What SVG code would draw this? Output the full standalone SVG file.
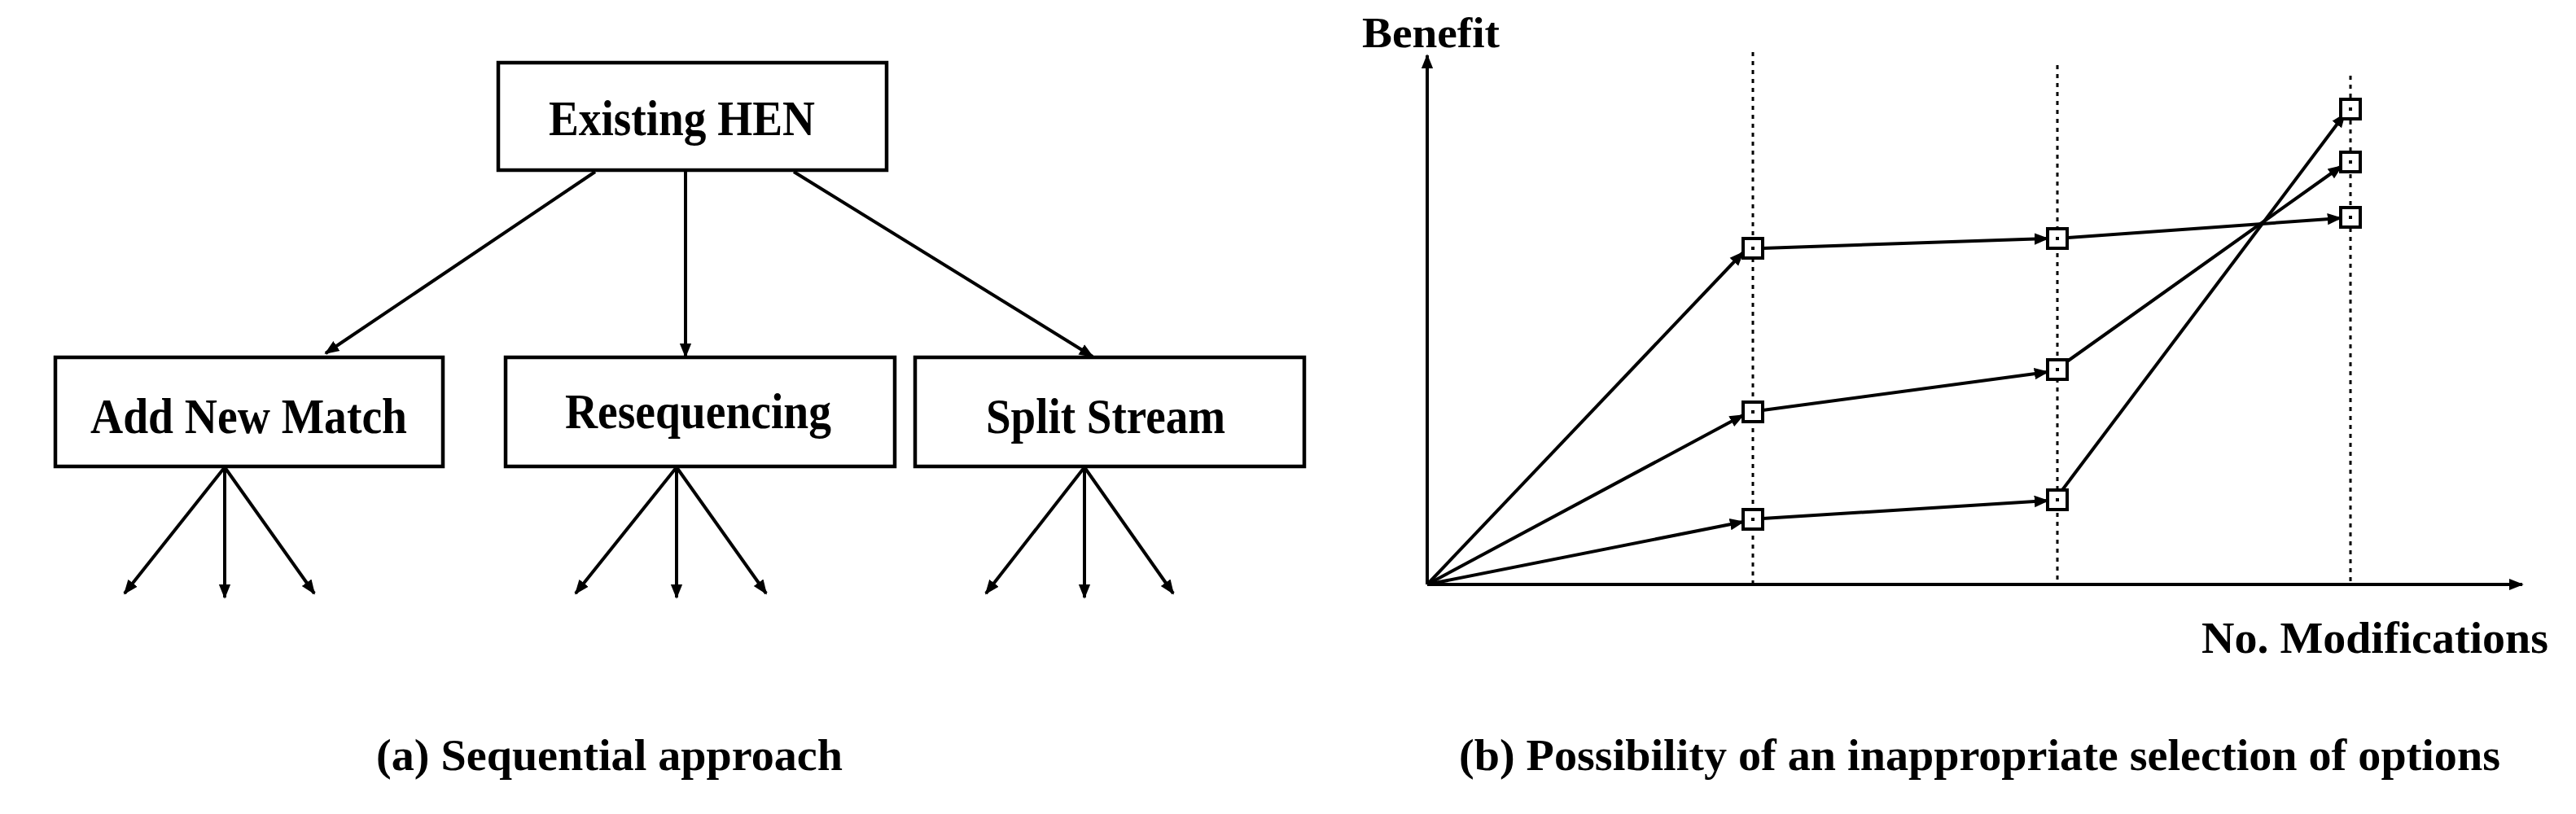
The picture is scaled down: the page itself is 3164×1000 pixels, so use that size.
<svg xmlns="http://www.w3.org/2000/svg" width="3164" height="1000" viewBox="0 0 3164 1000">
<style>
.box{fill:#fff;stroke:#000;stroke-width:4.5}
.t{font-family:"Liberation Serif",serif;font-weight:bold;fill:#000}
.c line,.c path{stroke:#000;stroke-width:4;fill:none}
.arr{marker-end:url(#ah)}
.dot{stroke:#000;stroke-width:3;stroke-dasharray:5 6}
.sq{fill:#fff;stroke:#000;stroke-width:4}
</style>
<defs>
<marker id="ah" viewBox="0 0 10 10" refX="9" refY="5" markerWidth="4.5" markerHeight="4.5" markerUnits="strokeWidth" orient="auto"><path d="M0,1 L10,5 L0,9 z" fill="#000"/></marker>
</defs>
<rect width="3164" height="1000" fill="#fff"/>
<g id="existing"><rect class="box" x="612" y="77" width="477" height="132"/><text class="t" x="674" y="166" font-size="62" textLength="327" lengthAdjust="spacingAndGlyphs">Existing HEN</text></g>
<g id="addnew"><rect class="box" x="68" y="439" width="476" height="134"/><text class="t" x="111" y="532" font-size="62" textLength="389" lengthAdjust="spacingAndGlyphs">Add New Match</text></g>
<g id="reseq"><rect class="box" x="621" y="439" width="478" height="134"/><text class="t" x="694" y="526" font-size="62" textLength="327" lengthAdjust="spacingAndGlyphs">Resequencing</text></g>
<g id="split"><rect class="box" x="1124" y="439" width="478" height="134"/><text class="t" x="1211" y="532" font-size="62" textLength="294" lengthAdjust="spacingAndGlyphs">Split Stream</text></g>
<g id="connectors" class="c">
<line class="arr" x1="731" y1="211" x2="400" y2="434"/>
<line class="arr" x1="842" y1="211" x2="842" y2="438"/>
<line class="arr" x1="975" y1="211" x2="1342" y2="438"/>
<line class="arr" x1="276" y1="574" x2="153" y2="729"/>
<line class="arr" x1="276" y1="574" x2="276" y2="734"/>
<line class="arr" x1="276" y1="574" x2="386" y2="729"/>
<line class="arr" x1="831" y1="574" x2="707" y2="729"/>
<line class="arr" x1="831" y1="574" x2="831" y2="734"/>
<line class="arr" x1="831" y1="574" x2="941" y2="729"/>
<line class="arr" x1="1332" y1="574" x2="1211" y2="729"/>
<line class="arr" x1="1332" y1="574" x2="1332" y2="734"/>
<line class="arr" x1="1332" y1="574" x2="1441" y2="729"/>
</g>
<text class="t" x="462" y="946" font-size="54" textLength="573" lengthAdjust="spacingAndGlyphs">(a) Sequential approach</text>
<g id="chart">
<line class="dot" x1="2153" y1="64" x2="2153" y2="716"/>
<line class="dot" x1="2527" y1="80" x2="2527" y2="716"/>
<line class="dot" x1="2887" y1="93" x2="2887" y2="716"/>
<g class="c">
<line class="arr" x1="1753" y1="718" x2="1753" y2="68"/>
<line class="arr" x1="1753" y1="718" x2="3098" y2="718"/>
<line class="arr" x1="1753" y1="718" x2="2141" y2="310"/>
<line class="arr" x1="2165" y1="305" x2="2515" y2="293"/>
<line class="arr" x1="2539" y1="292" x2="2875" y2="268"/>
<line class="arr" x1="1753" y1="718" x2="2141" y2="510"/>
<line class="arr" x1="2165" y1="504" x2="2515" y2="457"/>
<line class="arr" x1="2539" y1="444" x2="2876" y2="204"/>
<line class="arr" x1="1753" y1="718" x2="2141" y2="641"/>
<line class="arr" x1="2165" y1="637" x2="2515" y2="615"/>
<line class="arr" x1="2533" y1="602" x2="2880" y2="140"/>
</g>
<g id="markers">
<rect class="sq" x="2141" y="293" width="24" height="24"/><rect class="sq" x="2141" y="494" width="24" height="24"/><rect class="sq" x="2141" y="626" width="24" height="24"/>
<rect class="sq" x="2515" y="281" width="24" height="24"/><rect class="sq" x="2515" y="442" width="24" height="24"/><rect class="sq" x="2515" y="602" width="24" height="24"/>
<rect class="sq" x="2875" y="122" width="24" height="24"/><rect class="sq" x="2875" y="187" width="24" height="24"/><rect class="sq" x="2875" y="255" width="24" height="24"/>
<g fill="#000"><rect x="2151" y="303" width="4" height="4"/><rect x="2151" y="504" width="4" height="4"/><rect x="2151" y="636" width="4" height="4"/><rect x="2525" y="291" width="4" height="4"/><rect x="2525" y="452" width="4" height="4"/><rect x="2525" y="612" width="4" height="4"/><rect x="2885" y="132" width="4" height="4"/><rect x="2885" y="197" width="4" height="4"/><rect x="2885" y="265" width="4" height="4"/></g>
</g>
<text class="t" x="1673" y="58" font-size="52" textLength="169" lengthAdjust="spacingAndGlyphs">Benefit</text>
<text class="t" x="2704" y="802" font-size="54" textLength="426" lengthAdjust="spacingAndGlyphs">No. Modifications</text>
<text class="t" x="1792" y="946" font-size="54" textLength="1279" lengthAdjust="spacingAndGlyphs">(b) Possibility of an inappropriate selection of options</text>
</g>
</svg>
